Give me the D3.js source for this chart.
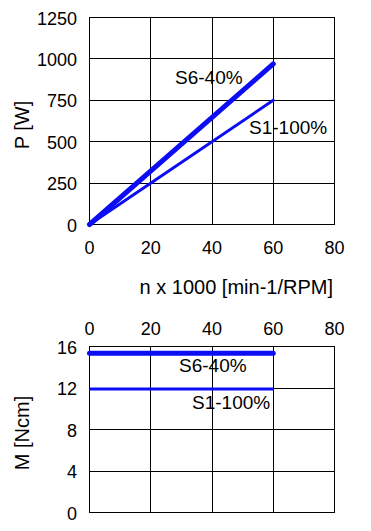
<!DOCTYPE html>
<html lang="en">
<head>
<meta charset="utf-8">
<title>P / M vs speed</title>
<style>
  body { margin: 0; background: #fff; }
  text { font-family: "Liberation Sans", Arial, sans-serif; fill: #000; }
  .grid line { stroke: #000; stroke-width: 1; shape-rendering: crispEdges; }
  .frame { fill: none; stroke: #000; stroke-width: 1; shape-rendering: crispEdges; }
</style>
<script src="https://d3js.org/d3.v7.min.js"></script>
</head>
<body>
<div id="chart"></div>
<script>
// data
var speed = [0, 60];                 // n x 1000
var powerS6 = [0, 970];              // W
var powerS1 = [0, 750];
var torqueS6 = [15.35, 15.35];       // Ncm
var torqueS1 = [11.9, 11.9];
var xTicks = [0, 20, 40, 60, 80];
var pTicks = [0, 250, 500, 750, 1000, 1250];
var mTicks = [0, 4, 8, 12, 16];
var seriesNames = ['S6-40%', 'S1-100%'];

var w = 371, h = 531;
var blue = '#0c0cf5';

var svg = d3.select('#chart').append('svg')
  .attr('width', w).attr('height', h);

var x = d3.scaleLinear().domain([0, 80]).range([89.5, 334.5]);
var yP = d3.scaleLinear().domain([0, 1250]).range([224.5, 17.5]);
var yM = d3.scaleLinear().domain([0, 16]).range([512.5, 346.5]);

function grid(y, yt) {
  var g = svg.append('g').attr('class', 'grid');
  g.selectAll('.v').data(xTicks).enter().append('line')
    .attr('x1', x).attr('x2', x)
    .attr('y1', y.range()[0]).attr('y2', y.range()[1]);
  g.selectAll('.h').data(yt).enter().append('line')
    .attr('x1', x.range()[0]).attr('x2', x.range()[1])
    .attr('y1', y).attr('y2', y);
  svg.append('rect').attr('class', 'frame')
    .attr('x', x.range()[0]).attr('y', y.range()[1])
    .attr('width', x.range()[1] - x.range()[0])
    .attr('height', y.range()[0] - y.range()[1]);

  svg.append('g').selectAll('text').data(yt).enter().append('text')
    .attr('x', 77).attr('y', function(d) { return y(d) + 7; })
    .attr('text-anchor', 'end')
    .style('font-size', '18px')
    .text(function(d) { return d; });
}

function xLabels(yPos) {
  svg.append('g').selectAll('text').data(xTicks).enter().append('text')
    .attr('x', x).attr('y', yPos)
    .attr('text-anchor', 'middle')
    .style('font-size', '18px')
    .text(function(d) { return d; });
}

// top chart
grid(yP, pTicks);
xLabels(254);

var lineP = function(vals) {
  return d3.line().x(function(d, i) { return x(speed[i]); })
    .y(function(d) { return yP(d); })(vals);
};
svg.append('path').attr('d', lineP(powerS1))
  .attr('fill', 'none').attr('stroke', blue).attr('stroke-width', 3)
  .attr('stroke-linecap', 'round');
svg.append('path').attr('d', lineP(powerS6))
  .attr('fill', 'none').attr('stroke', blue).attr('stroke-width', 5)
  .attr('stroke-linecap', 'round');

svg.append('text').attr('x', 175).attr('y', 84)
  .style('font-size', '19px').text(seriesNames[0]);
svg.append('text').attr('x', 249).attr('y', 134)
  .style('font-size', '19px').text(seriesNames[1]);

svg.append('text')
  .attr('transform', 'translate(29,125) rotate(-90)')
  .attr('text-anchor', 'middle')
  .style('font-size', '20px')
  .text('P [W]');

svg.append('text').attr('x', 333).attr('y', 294)
  .attr('text-anchor', 'end')
  .style('font-size', '20px')
  .text('n x 1000 [min-1/RPM]');

// bottom chart
grid(yM, mTicks);
xLabels(335);

var lineM = function(vals) {
  return d3.line().x(function(d, i) { return x(speed[i]); })
    .y(function(d) { return yM(d); })(vals);
};
svg.append('path').attr('d', lineM(torqueS1))
  .attr('fill', 'none').attr('stroke', blue).attr('stroke-width', 3);
svg.append('path').attr('d', lineM(torqueS6))
  .attr('fill', 'none').attr('stroke', blue).attr('stroke-width', 5)
  .attr('stroke-linecap', 'round');

svg.append('text').attr('x', 179).attr('y', 372)
  .style('font-size', '19px').text(seriesNames[0]);
svg.append('text').attr('x', 192).attr('y', 409)
  .style('font-size', '19px').text(seriesNames[1]);

svg.append('text')
  .attr('transform', 'translate(29,433) rotate(-90)')
  .attr('text-anchor', 'middle')
  .style('font-size', '20px')
  .text('M [Ncm]');
</script>
</body>
</html>
